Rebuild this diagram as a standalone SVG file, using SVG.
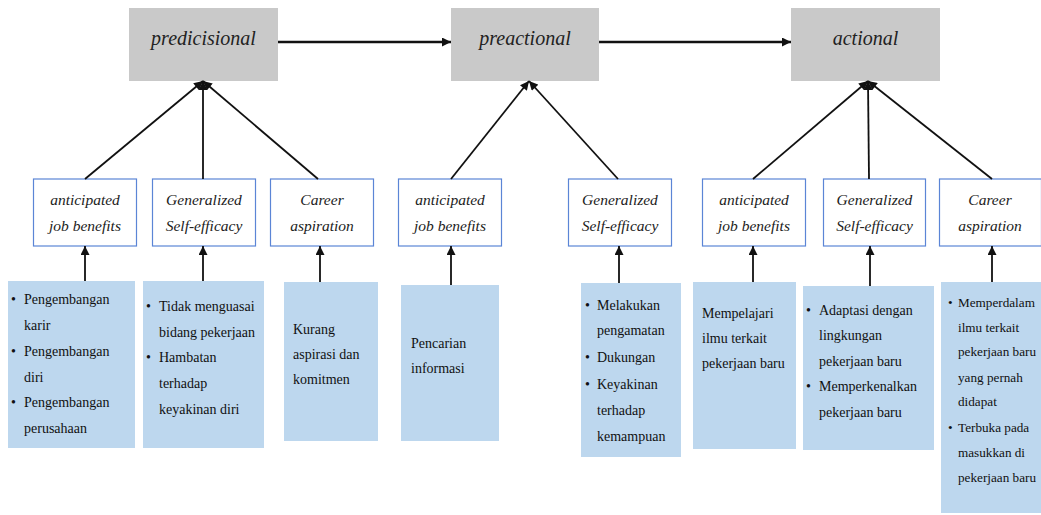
<svg xmlns="http://www.w3.org/2000/svg" width="1041" height="515" viewBox="0 0 1041 515">
<style>
.stage{fill:#c9c9c9}
.stxt{font-family:"Liberation Serif",serif;font-style:italic;font-size:20px;fill:#222;text-anchor:middle}
.fac{fill:#fff;stroke:#5b85d6;stroke-width:1.2}
.ftxt{font-family:"Liberation Serif",serif;font-style:italic;font-size:15.5px;fill:#222;text-anchor:middle}
.ind{fill:#bdd7ee}
.itxt{font-family:"Liberation Serif",serif;font-size:14px;fill:#111}
.con{stroke:#111;stroke-width:1.8;fill:none}
.hcon{stroke:#111;stroke-width:2.4;fill:none}
</style>
<defs>
<marker id="ah" viewBox="0 0 10 10" refX="10" refY="5" markerWidth="10" markerHeight="9" markerUnits="userSpaceOnUse" orient="auto"><path d="M0,0 L10,5 L0,10 z" fill="#111"/></marker>
</defs>
<rect width="1041" height="515" fill="#fff"/>
<g id="stage-predicisional"><rect class="stage" x="129" y="8" width="149" height="73"/><text class="stxt" x="203.5" y="45">predicisional</text></g>
<g id="stage-preactional"><rect class="stage" x="451" y="8" width="148" height="73"/><text class="stxt" x="525" y="45">preactional</text></g>
<g id="stage-actional"><rect class="stage" x="791" y="8" width="149" height="73"/><text class="stxt" x="865.5" y="45">actional</text></g>

<g id="f1"><rect class="fac" x="33.5" y="179" width="103" height="67"/><text class="ftxt" x="85" y="205">anticipated</text><text class="ftxt" x="85" y="231">job benefits</text></g>
<g id="f2"><rect class="fac" x="152.5" y="179" width="103" height="67"/><text class="ftxt" x="204" y="205">Generalized</text><text class="ftxt" x="204" y="231">Self-efficacy</text></g>
<g id="f3"><rect class="fac" x="270.5" y="179" width="103" height="67"/><text class="ftxt" x="322" y="205">Career</text><text class="ftxt" x="322" y="231">aspiration</text></g>
<g id="f4"><rect class="fac" x="398.5" y="179" width="103" height="67"/><text class="ftxt" x="450" y="205">anticipated</text><text class="ftxt" x="450" y="231">job benefits</text></g>
<g id="f5"><rect class="fac" x="568.5" y="179" width="103" height="67"/><text class="ftxt" x="620" y="205">Generalized</text><text class="ftxt" x="620" y="231">Self-efficacy</text></g>
<g id="f6"><rect class="fac" x="702.5" y="179" width="103" height="67"/><text class="ftxt" x="754" y="205">anticipated</text><text class="ftxt" x="754" y="231">job benefits</text></g>
<g id="f7"><rect class="fac" x="823.5" y="179" width="102" height="67"/><text class="ftxt" x="874.5" y="205">Generalized</text><text class="ftxt" x="874.5" y="231">Self-efficacy</text></g>
<g id="f8"><rect class="fac" x="939.5" y="179" width="102" height="67"/><text class="ftxt" x="990" y="205">Career</text><text class="ftxt" x="990" y="231">aspiration</text></g>

<g id="i1"><rect class="ind" x="8" y="281" width="127" height="167"/>
<text class="itxt"><tspan x="11" y="304">•</tspan><tspan x="24" y="304">Pengembangan</tspan><tspan x="24" y="330">karir</tspan><tspan x="11" y="356">•</tspan><tspan x="24" y="356">Pengembangan</tspan><tspan x="24" y="382">diri</tspan><tspan x="11" y="407">•</tspan><tspan x="24" y="407">Pengembangan</tspan><tspan x="24" y="433">perusahaan</tspan></text></g>
<g id="i2"><rect class="ind" x="143" y="281" width="121" height="167"/>
<text class="itxt"><tspan x="146" y="311">•</tspan><tspan x="159" y="311">Tidak menguasai</tspan><tspan x="159" y="337">bidang pekerjaan</tspan><tspan x="146" y="362">•</tspan><tspan x="159" y="362">Hambatan</tspan><tspan x="159" y="388">terhadap</tspan><tspan x="159" y="414">keyakinan diri</tspan></text></g>
<g id="i3"><rect class="ind" x="284" y="282" width="94" height="159"/>
<text class="itxt"><tspan x="293" y="334">Kurang</tspan><tspan x="293" y="359">aspirasi dan</tspan><tspan x="293" y="384">komitmen</tspan></text></g>
<g id="i4"><rect class="ind" x="401" y="285" width="98" height="156"/>
<text class="itxt"><tspan x="411" y="348">Pencarian</tspan><tspan x="411" y="373">informasi</tspan></text></g>
<g id="i5"><rect class="ind" x="581" y="283" width="100" height="174"/>
<text class="itxt"><tspan x="585" y="310">•</tspan><tspan x="597" y="310">Melakukan</tspan><tspan x="597" y="335">pengamatan</tspan><tspan x="585" y="362">•</tspan><tspan x="597" y="362">Dukungan</tspan><tspan x="585" y="389">•</tspan><tspan x="597" y="389">Keyakinan</tspan><tspan x="597" y="415">terhadap</tspan><tspan x="597" y="441">kemampuan</tspan></text></g>
<g id="i6"><rect class="ind" x="693" y="282" width="103" height="167"/>
<text class="itxt"><tspan x="702" y="318">Mempelajari</tspan><tspan x="702" y="343">ilmu terkait</tspan><tspan x="702" y="368">pekerjaan baru</tspan></text></g>
<g id="i7"><rect class="ind" x="803" y="286" width="131" height="164"/>
<text class="itxt"><tspan x="806" y="315">•</tspan><tspan x="819" y="315">Adaptasi dengan</tspan><tspan x="819" y="340">lingkungan</tspan><tspan x="819" y="366">pekerjaan baru</tspan><tspan x="806" y="391">•</tspan><tspan x="819" y="391">Memperkenalkan</tspan><tspan x="819" y="417">pekerjaan baru</tspan></text></g>
<g id="i8"><rect class="ind" x="941" y="282" width="100" height="231"/>
<text class="itxt" style="font-size:13.2px"><tspan x="948" y="307">•</tspan><tspan x="958" y="307">Memperdalam</tspan><tspan x="958" y="332">ilmu terkait</tspan><tspan x="958" y="356">pekerjaan baru</tspan><tspan x="958" y="382">yang pernah</tspan><tspan x="958" y="406">didapat</tspan><tspan x="948" y="432">•</tspan><tspan x="958" y="432">Terbuka pada</tspan><tspan x="958" y="457">masukkan di</tspan><tspan x="958" y="482">pekerjaan baru</tspan></text></g>

<g id="connectors">
<line class="hcon" x1="278" y1="42" x2="451" y2="42" marker-end="url(#ah)"/>
<line class="hcon" x1="599" y1="42" x2="791" y2="42" marker-end="url(#ah)"/>
<line class="con" x1="85" y1="179" x2="203" y2="81" marker-end="url(#ah)"/>
<line class="con" x1="203" y1="179" x2="203" y2="81" marker-end="url(#ah)"/>
<line class="con" x1="318" y1="179" x2="203" y2="81" marker-end="url(#ah)"/>
<line class="con" x1="451" y1="179" x2="529" y2="81" marker-end="url(#ah)"/>
<line class="con" x1="618" y1="179" x2="529" y2="81" marker-end="url(#ah)"/>
<line class="con" x1="753" y1="179" x2="868" y2="81" marker-end="url(#ah)"/>
<line class="con" x1="869" y1="179" x2="868" y2="81" marker-end="url(#ah)"/>
<line class="con" x1="992" y1="179" x2="868" y2="81" marker-end="url(#ah)"/>
<line class="con" x1="85" y1="281" x2="85" y2="246" marker-end="url(#ah)"/>
<line class="con" x1="203" y1="281" x2="203" y2="246" marker-end="url(#ah)"/>
<line class="con" x1="320" y1="282" x2="320" y2="246" marker-end="url(#ah)"/>
<line class="con" x1="451" y1="285" x2="451" y2="246" marker-end="url(#ah)"/>
<line class="con" x1="619" y1="283" x2="619" y2="246" marker-end="url(#ah)"/>
<line class="con" x1="753" y1="282" x2="753" y2="246" marker-end="url(#ah)"/>
<line class="con" x1="870" y1="286" x2="870" y2="246" marker-end="url(#ah)"/>
<line class="con" x1="992" y1="282" x2="992" y2="246" marker-end="url(#ah)"/>
</g>
</svg>
